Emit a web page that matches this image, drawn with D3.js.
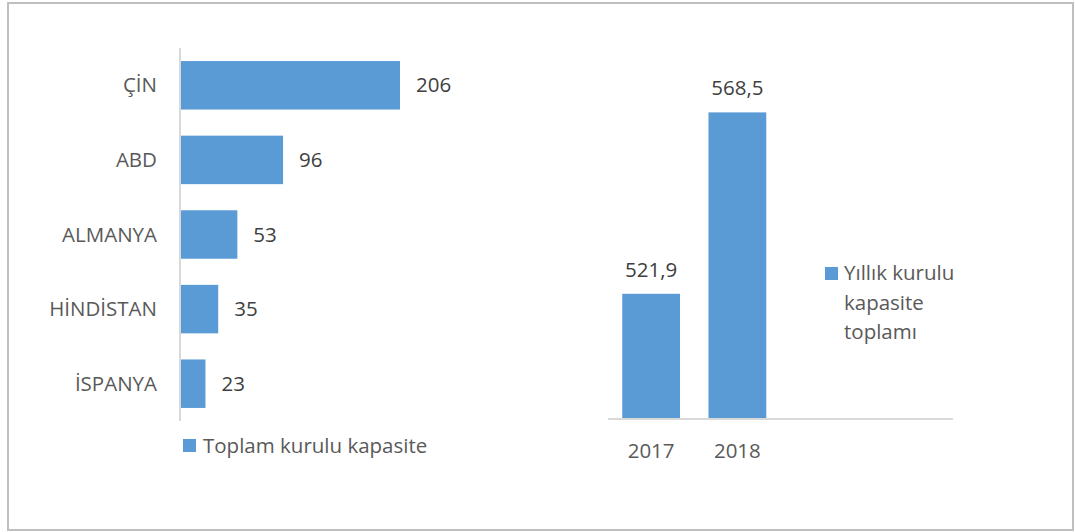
<!doctype html>
<html>
<head>
  <meta charset="UTF-8">
  <script src="https://d3js.org/d3.v7.min.js"></script>
</head>
<body style="margin:0">
<script>
  // ülkelere göre toplam kurulu kapasite
  var countries = ['ÇİN', 'ABD', 'ALMANYA', 'HİNDİSTAN', 'İSPANYA']
  var capacity = [206, 96, 53, 35, 23]
  var legendLeft = 'Toplam kurulu kapasite'

  // yıllık kurulu kapasite toplamı
  var years = ['2017', '2018']
  var yearTotals = [521.9, 568.5]
  var legendRight = ['Yıllık kurulu', 'kapasite', 'toplamı']

  var width = 1075, height = 532
  var font = 'Open Sans'
  var barColor = '#5B9BD5'

  var svg = d3.select('body').append('svg')
    .attr('width', width)
    .attr('height', height)
    .style('font-family', font)

  svg.append('rect')
    .attr('x', 8).attr('y', 3)
    .attr('width', 1065).attr('height', 527)
    .attr('fill', '#fff')
    .attr('stroke', '#BFBFBF')
    .attr('stroke-width', 2)

  var fmt = function(v) { return String(v).replace('.', ',') }

  // --- sol grafik ---
  var y1 = d3.scaleBand().domain(countries).range([48, 421]).paddingInner(0.35).paddingOuter(0.175)
  var x1 = d3.scaleLinear().domain([0, 206]).range([181, 400])

  var left = svg.append('g')

  left.selectAll('rect.bar')
    .data(countries)
    .enter()
    .append('rect')
    .attr('class', 'bar')
    .attr('x', x1(0))
    .attr('y', d => y1(d))
    .attr('height', y1.bandwidth())
    .attr('width', (d, i) => x1(capacity[i]) - x1(0))
    .attr('fill', barColor)

  left.append('line')
    .attr('x1', 180).attr('x2', 180)
    .attr('y1', 48).attr('y2', 421)
    .attr('stroke', '#D9D9D9')
    .attr('stroke-width', 2)

  left.selectAll('text.cat')
    .data(countries)
    .enter()
    .append('text')
    .attr('class', 'cat')
    .text(d => d)
    .attr('x', 157)
    .attr('y', d => y1(d) + y1.bandwidth() / 2)
    .attr('dy', '0.35em')
    .attr('text-anchor', 'end')
    .style('font-size', '20.5px')
    .style('fill', '#595959')

  left.selectAll('text.val')
    .data(countries)
    .enter()
    .append('text')
    .attr('class', 'val')
    .text((d, i) => fmt(capacity[i]))
    .attr('x', (d, i) => x1(capacity[i]) + 16)
    .attr('y', d => y1(d) + y1.bandwidth() / 2)
    .attr('dy', '0.35em')
    .style('font-size', '20.5px')
    .style('fill', '#404040')

  left.append('rect')
    .attr('x', 183).attr('y', 439)
    .attr('width', 13).attr('height', 13)
    .attr('fill', barColor)

  left.append('text')
    .text(legendLeft)
    .attr('x', 203)
    .attr('y', 453)
    .style('font-size', '20.5px')
    .style('fill', '#595959')

  // --- sağ grafik ---
  var x2 = d3.scaleBand().domain(years).range([608, 780.5]).paddingInner(0.33).paddingOuter(0.165)
  var y2 = d3.scaleLinear().domain([490, 580]).range([418, 67.6])

  var right = svg.append('g')

  right.selectAll('rect.bar')
    .data(years)
    .enter()
    .append('rect')
    .attr('class', 'bar')
    .attr('x', d => x2(d))
    .attr('width', x2.bandwidth())
    .attr('y', (d, i) => y2(yearTotals[i]))
    .attr('height', (d, i) => y2(490) - y2(yearTotals[i]))
    .attr('fill', barColor)

  right.append('line')
    .attr('x1', 608).attr('x2', 953)
    .attr('y1', 419).attr('y2', 419)
    .attr('stroke', '#D9D9D9')
    .attr('stroke-width', 2)

  right.selectAll('text.val')
    .data(years)
    .enter()
    .append('text')
    .attr('class', 'val')
    .text((d, i) => fmt(yearTotals[i]))
    .attr('x', d => x2(d) + x2.bandwidth() / 2)
    .attr('y', (d, i) => y2(yearTotals[i]) - 17)
    .attr('text-anchor', 'middle')
    .style('font-size', '20.5px')
    .style('fill', '#404040')

  right.selectAll('text.year')
    .data(years)
    .enter()
    .append('text')
    .attr('class', 'year')
    .text(d => d)
    .attr('x', d => x2(d) + x2.bandwidth() / 2)
    .attr('y', 458)
    .attr('text-anchor', 'middle')
    .style('font-size', '20.5px')
    .style('fill', '#595959')

  right.append('rect')
    .attr('x', 825).attr('y', 267)
    .attr('width', 13).attr('height', 13)
    .attr('fill', barColor)

  right.selectAll('text.leg')
    .data(legendRight)
    .enter()
    .append('text')
    .attr('class', 'leg')
    .text(d => d)
    .attr('x', 844)
    .attr('y', (d, i) => 280 + i * 29.5)
    .style('font-size', '20.5px')
    .style('fill', '#595959')
</script>
</body>
</html>
